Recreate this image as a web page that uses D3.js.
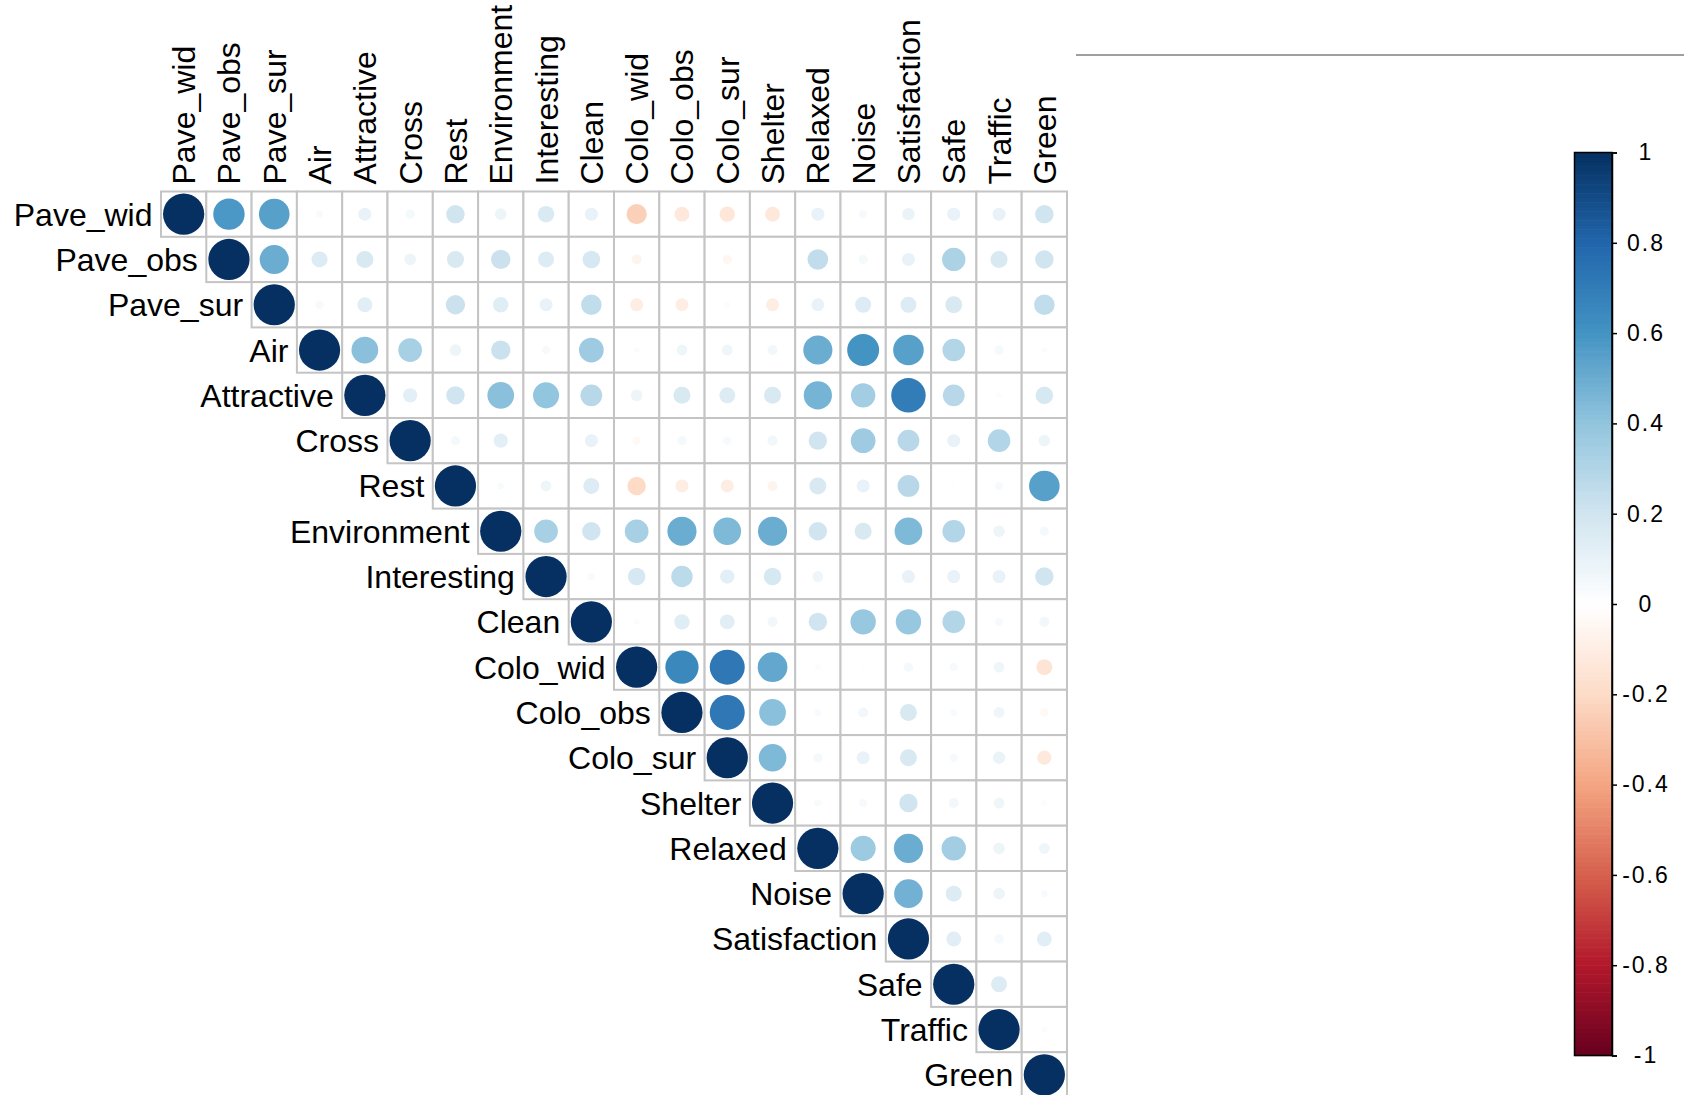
<!DOCTYPE html>
<html>
<head>
<meta charset="utf-8">
<script src="https://cdn.jsdelivr.net/npm/d3@7"></script>
<style>
  html, body { margin: 0; padding: 0; background: #fff; }
  svg { display: block; }
  text { font-family: "Liberation Sans", Arial, sans-serif; fill: #000; }
</style>
</head>
<body>
<svg id="chart" width="1684" height="1095"></svg>
<script>
// Variable names, in matrix order
const variables = ["Pave_wid","Pave_obs","Pave_sur","Air","Attractive","Cross","Rest",
  "Environment","Interesting","Clean","Colo_wid","Colo_obs","Colo_sur","Shelter",
  "Relaxed","Noise","Satisfaction","Safe","Traffic","Green"];

// Upper-triangle correlations: row i holds the values for columns i..19
const corrRows = [
  [1, 0.58, 0.55, 0.03, 0.10, 0.05, 0.20, 0.08, 0.16, 0.10, -0.24, -0.13, -0.14, -0.13, 0.10, 0.04, 0.09, 0.10, 0.10, 0.20],
  [1, 0.50, 0.15, 0.17, 0.08, 0.17, 0.22, 0.15, 0.18, -0.06, 0.01, -0.05, 0.01, 0.25, 0.05, 0.10, 0.32, 0.17, 0.20],
  [1, 0.04, 0.13, 0.01, 0.22, 0.14, 0.10, 0.25, -0.10, -0.10, -0.02, -0.10, 0.10, 0.15, 0.15, 0.17, 0.01, 0.25],
  [1, 0.42, 0.33, 0.08, 0.22, 0.04, 0.36, 0.02, 0.07, 0.07, 0.06, 0.50, 0.60, 0.55, 0.30, 0.05, 0.02],
  [1, 0.12, 0.20, 0.42, 0.40, 0.28, 0.08, 0.17, 0.15, 0.17, 0.47, 0.35, 0.70, 0.28, 0.02, 0.18],
  [1, 0.05, 0.12, 0.01, 0.10, -0.04, 0.05, 0.04, 0.06, 0.20, 0.36, 0.28, 0.10, 0.30, 0.08],
  [1, 0.03, 0.07, 0.15, -0.20, -0.10, -0.10, -0.06, 0.17, 0.10, 0.28, 0.01, 0.04, 0.55],
  [1, 0.33, 0.20, 0.33, 0.50, 0.45, 0.50, 0.20, 0.17, 0.45, 0.30, 0.08, 0.05],
  [1, 0.03, 0.18, 0.27, 0.12, 0.18, 0.07, 0.01, 0.10, 0.10, 0.10, 0.20],
  [1, 0.02, 0.14, 0.13, 0.06, 0.20, 0.38, 0.38, 0.30, 0.04, 0.06],
  [1, 0.65, 0.72, 0.52, -0.02, 0.01, 0.05, 0.04, 0.07, -0.15],
  [1, 0.72, 0.42, 0.03, 0.06, 0.17, 0.03, 0.07, -0.04],
  [1, 0.45, 0.05, 0.10, 0.17, 0.04, 0.09, -0.12],
  [1, 0.03, 0.04, 0.20, 0.06, 0.07, -0.02],
  [1, 0.37, 0.50, 0.35, 0.08, 0.07],
  [1, 0.48, 0.15, 0.08, 0.03],
  [1, 0.13, 0.05, 0.13],
  [1, 0.15, 0.01],
  [1, -0.02],
  [1]
];

// Colour legend ticks
const legendTicks = [1, 0.8, 0.6, 0.4, 0.2, 0, -0.2, -0.4, -0.6, -0.8, -1];

// Diverging red-blue palette stops from -1 to 1
const paletteStops = ["#67001F","#B2182B","#D6604D","#F4A582","#FDDBC7","#FFFFFF",
  "#D1E5F0","#92C5DE","#4393C3","#2166AC","#053061"];

const svg = d3.select("#chart");

const cell = 45.3;
const gridLeft = 161, gridTop = 191.5;
const n = variables.length;

const x = d3.scaleBand().domain(variables).range([gridLeft, gridLeft + n * cell]).padding(0);
const y = d3.scaleBand().domain(variables).range([gridTop, gridTop + n * cell]).padding(0);

const color = d3.scaleLinear()
  .domain(d3.range(11).map(i => -1 + i * 0.2))
  .range(paletteStops)
  .interpolate(d3.interpolateRgb);

const radius = d3.scaleSqrt().domain([0, 1]).range([0, 0.455 * cell]);

// Flatten the triangle into cells
const cells = [];
corrRows.forEach((row, i) => {
  row.forEach((v, k) => {
    const j = i + k;
    cells.push({ row: variables[i], col: variables[j], value: v });
  });
});

// Grid squares
svg.append("g").selectAll("rect")
  .data(cells)
  .join("rect")
  .attr("x", d => x(d.col))
  .attr("y", d => y(d.row))
  .attr("width", x.bandwidth())
  .attr("height", y.bandwidth())
  .attr("fill", "#fff")
  .attr("stroke", "#C4C4C4")
  .attr("stroke-width", 2);

// Correlation circles
svg.append("g").selectAll("circle")
  .data(cells)
  .join("circle")
  .attr("cx", d => x(d.col) + x.bandwidth() / 2)
  .attr("cy", d => y(d.row) + y.bandwidth() / 2)
  .attr("r", d => radius(Math.abs(d.value)))
  .attr("fill", d => color(d.value));

// Row labels, right-aligned next to the diagonal
svg.append("g").selectAll("text")
  .data(variables)
  .join("text")
  .attr("x", (d) => x(d) - 8.5)
  .attr("y", d => y(d) + y.bandwidth() / 2)
  .attr("dy", "0.36em")
  .attr("text-anchor", "end")
  .attr("font-size", 32)
  .text(d => d);

// Column labels, rotated along the top
svg.append("g").selectAll("text")
  .data(variables)
  .join("text")
  .attr("transform", d => `translate(${x(d) + x.bandwidth() / 2},${gridTop - 7}) rotate(-90)`)
  .attr("dy", "0.36em")
  .attr("text-anchor", "start")
  .attr("font-size", 32)
  .text(d => d);

// Colour legend
const barX = 1574.5, barW = 37.5, barTop = 152.5, barBottom = 1055.5;
const ly = d3.scaleLinear().domain([-1, 1]).range([barBottom, barTop]);

const steps = 200;
const legendGroup = svg.append("g");
legendGroup.selectAll("rect.step")
  .data(d3.range(steps))
  .join("rect")
  .attr("class", "step")
  .attr("x", barX)
  .attr("width", barW)
  .attr("y", i => ly(-1 + (i + 1) * 2 / steps))
  .attr("height", (barBottom - barTop) / steps + 0.6)
  .attr("fill", i => color(-1 + (i + 0.5) * 2 / steps));

legendGroup.append("rect")
  .attr("x", barX).attr("y", barTop)
  .attr("width", barW).attr("height", barBottom - barTop)
  .attr("fill", "none").attr("stroke", "#000").attr("stroke-width", 1.5);

const legendAxis = d3.axisRight(ly)
  .tickValues(legendTicks)
  .tickSize(5)
  .tickFormat(d => String(d));

const axisG = legendGroup.append("g")
  .attr("transform", `translate(${barX + barW},0)`)
  .call(legendAxis);
axisG.select(".domain").attr("stroke", "#000").attr("stroke-width", 1.5);
axisG.selectAll(".tick line").attr("stroke", "#000").attr("stroke-width", 1.5);
axisG.selectAll(".tick text")
  .attr("x", 1646 - (barX + barW))
  .attr("text-anchor", "middle")
  .attr("font-size", 23)
  .attr("letter-spacing", "2px")
  .attr("font-family", "Liberation Sans, Arial, sans-serif")
  .attr("fill", "#000");

// Thin rule across the top right
svg.append("line")
  .attr("x1", 1076).attr("x2", 1684)
  .attr("y1", 55).attr("y2", 55)
  .attr("stroke", "#7f7f7f").attr("stroke-width", 1.5);
</script>
</body>
</html>
